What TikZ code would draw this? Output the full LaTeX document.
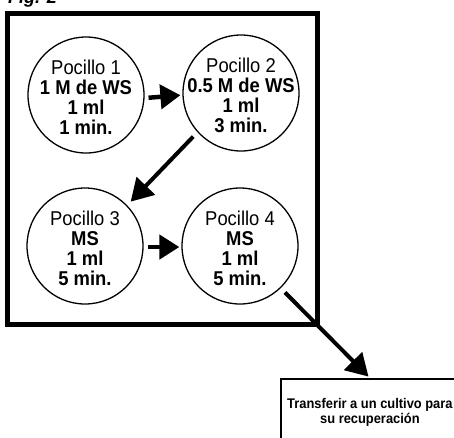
\documentclass[tikz,border=0pt]{standalone}
\usepackage{fontspec}
\setmainfont{Liberation Sans}
\newfontfamily\cond[FakeStretch=0.92]{Liberation Sans}
\usetikzlibrary{arrows.meta}
\begin{document}
\begin{tikzpicture}[x=1pt,y=-1pt,
  well/.style={circle,draw,line width=1.3pt,minimum size=116pt,inner sep=0pt},
  welltext/.style={align=center,inner sep=0pt,yshift=-2pt,font=\cond\fontsize{20}{20}\selectfont},
  bigarrow/.style={line width=4.5pt,-{Triangle[length=20pt,width=24pt]}},
  diagarrow/.style={line width=4pt,-{Triangle[length=22pt,width=25pt]}},
  endbox/.style={draw,line width=1.8pt,minimum width=178pt,minimum height=67pt,inner sep=0pt,
    align=center,font=\cond\bfseries\fontsize{14}{15}\selectfont}
  ]
\clip (0,0) rectangle (454,437);
\useasboundingbox (0,0) rectangle (454,437);
\node[anchor=base west,inner sep=0pt,font=\bfseries\itshape\fontsize{18}{18}\selectfont] (fig) at (8,3) {Fig. 2};
\draw[line width=5pt] (7.5,13.5) rectangle (317.5,324.5);
\node[well] (c1) at (86,95) {};
\node[well] (c2) at (241,93) {};
\node[well] (c3) at (85,246) {};
\node[well] (c4) at (240,246) {};
\node[welltext] (t1) at (c1) {Pocillo 1\\\textbf{1 M de WS}\\\textbf{1 ml}\\\textbf{1 min.}};
\node[welltext] (t2) at (c2) {Pocillo 2\\\textbf{0.5 M de WS}\\\textbf{1 ml}\\\textbf{3 min.}};
\node[welltext] (t3) at (c3) {Pocillo 3\\\textbf{MS}\\\textbf{1 ml}\\\textbf{5 min.}};
\node[welltext] (t4) at (c4) {Pocillo 4\\\textbf{MS}\\\textbf{1 ml}\\\textbf{5 min.}};
\node[endbox,anchor=north west] (box) at (280,378) {Transferir a un cultivo para\\su recuperación};
\draw[bigarrow,shorten <=4pt,shorten >=2pt] (c1.-3) -- (c2.182);
\draw[bigarrow,shorten <=4pt,shorten >=2pt] (c3.-1) -- (c4.181);
\draw[diagarrow,shorten <=6pt,shorten >=5pt] (c2.222) -- (c3.44);
\draw[diagarrow,shorten <=6pt,shorten >=2pt] (c4.-46) -- (box.north);
\end{tikzpicture}
\end{document}
